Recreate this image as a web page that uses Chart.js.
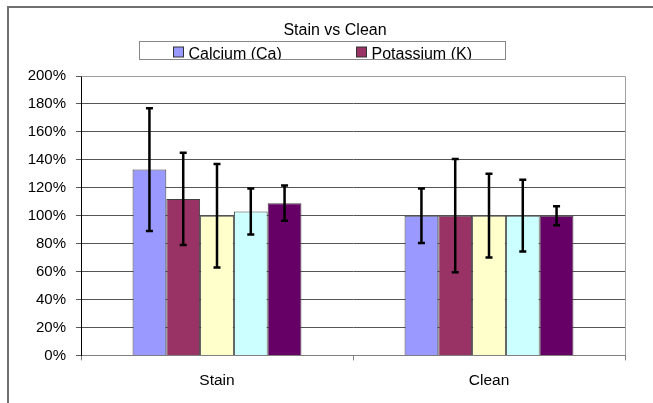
<!DOCTYPE html>
<html>
<head>
<meta charset="utf-8">
<script src="https://cdn.jsdelivr.net/npm/chart.js@4"></script>
<style>
  body { margin: 0; background: #fff; }
  #wrap { width: 653px; height: 403px; }
</style>
</head>
<body>
<div id="wrap"><canvas id="myChart" width="653" height="403"></canvas></div>
<script>
// data
const chartTitle = 'Stain vs Clean';
const categories = ['Stain', 'Clean'];
const seriesNames = ['Calcium (Ca)', 'Potassium (K)', 'Series 3', 'Series 4', 'Series 5'];
const seriesColors = ['#9999FF', '#993366', '#FFFFCC', '#CCFFFF', '#660066'];

const calcium = [133, 100];
const calciumErr = [44, 19.5];
const potassium = [112, 100];
const potassiumErr = [33, 40.5];
const series3 = [100, 100];
const series3Err = [37, 30];
const series4 = [103, 100];
const series4Err = [16.5, 25.7];
const series5 = [109, 100];
const series5Err = [12.6, 6.8];

const allValues = [calcium, potassium, series3, series4, series5];
const allErrors = [calciumErr, potassiumErr, series3Err, series4Err, series5Err];
// only the first two entries fit in the legend box
const legendShown = 2;

const FONT = 'Liberation Sans, Arial, sans-serif';

// outer chart border (only top and left are visible)
const frame = {
    id: 'frame',
    beforeDraw(chart) {
        const ctx = chart.ctx;
        ctx.save();
        ctx.fillStyle = '#fff';
        ctx.fillRect(0, 0, chart.width, chart.height);
        ctx.strokeStyle = '#707070';
        ctx.lineWidth = 2;
        ctx.beginPath();
        ctx.moveTo(8, chart.height);
        ctx.lineTo(8, 7);
        ctx.lineTo(chart.width, 7);
        ctx.stroke();
        ctx.restore();
    },
    beforeDatasetsDraw(chart) {
        // plot area border, right and top
        const a = chart.chartArea;
        const ctx = chart.ctx;
        ctx.save();
        ctx.strokeStyle = '#a0a0a0';
        ctx.lineWidth = 1;
        ctx.beginPath();
        ctx.moveTo(Math.round(a.left) + 0.5, Math.round(a.top) + 0.5);
        ctx.lineTo(Math.round(a.right) + 0.5, Math.round(a.top) + 0.5);
        ctx.lineTo(Math.round(a.right) + 0.5, Math.round(a.bottom) + 0.5);
        ctx.stroke();
        ctx.restore();
    }
};

// error bars drawn from the y scale
const errorBars = {
    id: 'errorBars',
    afterDatasetsDraw(chart) {
        const ctx = chart.ctx;
        const y = chart.scales.y;
        ctx.save();
        ctx.strokeStyle = '#000';
        ctx.lineWidth = 2.5;
        chart.data.datasets.forEach((ds, i) => {
            const meta = chart.getDatasetMeta(i);
            meta.data.forEach((bar, j) => {
                const v = ds.data[j];
                const e = allErrors[i][j];
                const top = y.getPixelForValue(v + e);
                const bot = y.getPixelForValue(v - e);
                ctx.beginPath();
                ctx.moveTo(bar.x, top);
                ctx.lineTo(bar.x, bot);
                ctx.moveTo(bar.x - 3.5, top);
                ctx.lineTo(bar.x + 3.5, top);
                ctx.moveTo(bar.x - 3.5, bot);
                ctx.lineTo(bar.x + 3.5, bot);
                ctx.stroke();
            });
        });
        ctx.restore();
    }
};

// title plus boxed legend, clipped like the original
const boxLegend = {
    id: 'boxLegend',
    afterDraw(chart) {
        const ctx = chart.ctx;
        ctx.save();
        ctx.font = '16px ' + FONT;
        ctx.fillStyle = '#000';
        ctx.textAlign = 'center';
        ctx.textBaseline = 'alphabetic';
        ctx.fillText(chartTitle, 335, 35);
        ctx.restore();

        const bx = 139.5, by = 41.5, bw = 366, bh = 18;
        ctx.save();
        ctx.beginPath();
        ctx.rect(bx, by, bw, bh);
        ctx.clip();
        ctx.font = '16px ' + FONT;
        ctx.textBaseline = 'alphabetic';
        const col = bw / legendShown;
        for (let i = 0; i < legendShown; i++) {
            const x = bx + col * i + 34;
            ctx.fillStyle = seriesColors[i];
            ctx.fillRect(x, 47, 10, 10);
            ctx.strokeStyle = '#333';
            ctx.lineWidth = 1;
            ctx.strokeRect(x, 47, 10, 10);
            ctx.fillStyle = '#000';
            ctx.fillText(seriesNames[i], x + 15, 58.5);
        }
        ctx.restore();
        ctx.save();
        ctx.strokeStyle = '#888';
        ctx.lineWidth = 1;
        ctx.strokeRect(bx, by, bw, bh);
        ctx.restore();
    }
};

const datasets = seriesNames.map((name, i) => ({
    label: name,
    data: allValues[i],
    backgroundColor: seriesColors[i],
    borderColor: '#404040',
    borderWidth: 1,
    barPercentage: 1.0,
    categoryPercentage: 0.621,
}));

new Chart(document.getElementById('myChart'), {
    type: 'bar',
    data: {
        labels: categories,
        datasets: datasets
    },
    options: {
        responsive: false,
        animation: false,
        layout: {
            padding: { left: 25, right: 28, top: 76, bottom: 2 }
        },
        scales: {
            x: {
                grid: {
                    offset: true,
                    drawOnChartArea: false,
                    tickLength: 5,
                    color: '#808080'
                },
                border: { color: '#808080' },
                ticks: {
                    padding: 11,
                    color: '#000',
                    font: { family: FONT, size: 15.5 }
                }
            },
            y: {
                min: 0,
                max: 200,
                afterFit(scale) { scale.width = 56; },
                ticks: {
                    stepSize: 20,
                    padding: 10,
                    color: '#000',
                    font: { family: FONT, size: 15 },
                    callback: (v) => v + '%'
                },
                grid: {
                    color: '#555',
                    tickLength: 5
                },
                border: { color: '#000' }
            }
        },
        plugins: {
            legend: { display: false },
            tooltip: { enabled: false },
            title: { display: false }
        }
    },
    plugins: [frame, errorBars, boxLegend]
});
</script>
</body>
</html>
